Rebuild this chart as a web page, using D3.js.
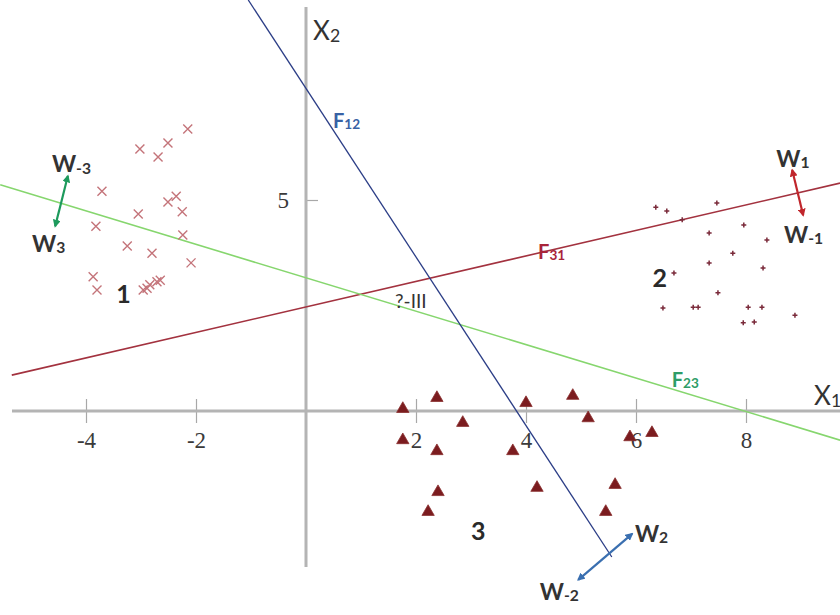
<!DOCTYPE html>
<html>
<head>
<meta charset="utf-8">
<script src="https://cdn.jsdelivr.net/npm/d3@7"></script>
<style>
  body { margin: 0; background: #fff; }
  svg { display: block; }
</style>
</head>
<body>
<div id="chart"></div>
<script>
//////////////////////////////////////////////////////////////////////////////
// Data (in x1/x2 units)

var class1 = [
  [-2.15, 6.68], [-3.02, 6.21], [-2.69, 6.02], [-2.51, 6.35], [-3.71, 5.21],
  [-3.05, 4.67], [-2.51, 4.95], [-2.36, 5.09], [-2.25, 4.72], [-3.82, 4.38],
  [-2.24, 4.17], [-3.25, 3.91], [-2.80, 3.74], [-2.09, 3.51], [-3.87, 3.18],
  [-3.80, 2.87], [-2.96, 2.87], [-2.84, 2.99], [-2.71, 3.06], [-2.89, 2.91],
  [-2.65, 3.10]
];

var class2 = [
  [6.36, 4.83], [6.56, 4.74], [7.47, 4.93], [6.84, 4.53], [7.96, 4.41],
  [7.33, 4.22], [8.38, 4.05], [7.76, 3.74], [7.33, 3.51], [8.31, 3.39],
  [6.69, 3.27], [7.49, 2.80], [6.49, 2.44], [7.04, 2.46], [7.13, 2.46],
  [8.04, 2.46], [8.29, 2.46], [8.89, 2.27], [7.95, 2.09], [8.15, 2.11]
];

var class3 = [
  [1.76, 0.05], [2.38, 0.31], [2.85, -0.28], [1.76, -0.69], [2.38, -0.95],
  [4.00, 0.19], [4.85, 0.36], [5.13, -0.17], [3.76, -0.95], [5.89, -0.62],
  [6.29, -0.52], [2.40, -1.92], [4.20, -1.82], [5.62, -1.75], [2.22, -2.39],
  [5.45, -2.39]
];

// decision lines, two end points each: F31, F23, F12
var lineEnds = [
  [[-5.35, 0.85], [9.71, 5.40]],
  [[-5.56, 5.36], [9.71, -0.69]],
  [[-1.05, 9.74], [5.56, -3.46]]
];

var xTicks = [-4, -2, 2, 4, 6, 8];
var yTicks = [5];

// weight arrows (from, to): green, red, blue
var arrowEnds = [
  [[-4.33, 5.57], [-4.56, 4.38]],
  [[8.84, 5.71], [9.04, 4.64]],
  [[5.93, -2.91], [4.95, -4.00]]
];
var arrowLabels = [
  ["W", "1", 8.55, 5.78], ["W", "-1", 8.69, 3.98],
  ["W", "-3", -4.62, 5.66], ["W", "3", -4.98, 3.77],
  ["W", "2", 5.98, -3.10], ["W", "-2", 4.25, -4.48]
];
var lineLabels = [
  ["F", "31", 4.22, 3.60], ["F", "23", 6.65, 0.57], ["F", "12", 0.49, 6.70]
];
var classLabels = [["1", -3.45, 2.55], ["2", 6.3, 2.95], ["3", 3.00, -3.05]];

//////////////////////////////////////////////////////////////////////////////

var width = 840, height = 615;

var x = d3.scaleLinear().domain([-4, 8]).range([86, 746]);
var y = d3.scaleLinear().domain([0, 5]).range([411, 200]);

var lineColors = ["#a3323f", "#86d66e", "#2b3d86"];
var lineLabelColors = ["#a8243a", "#2e9d68", "#3862a4"];
var arrowColors = ["#1d9a5c", "#c0262c", "#3a6fb0"];
var arrowKeys = ["g", "r", "b"];
var labelFont = "Lato, 'Open Sans', sans-serif";
var tickFont = "'Liberation Serif', serif";

var svg = d3.select("#chart").append("svg")
    .attr("width", width)
    .attr("height", height);

var defs = svg.append("defs");
arrowKeys.forEach(function(k, i) {
    defs.append("marker")
        .attr("id", "arr-" + k)
        .attr("viewBox", "0 0 10 10")
        .attr("refX", 8).attr("refY", 5)
        .attr("markerWidth", 3.6).attr("markerHeight", 3.6)
        .attr("markerUnits", "strokeWidth")
        .attr("orient", "auto-start-reverse")
        .append("path")
        .attr("d", "M0,0 L10,5 L0,10 Z")
        .attr("fill", arrowColors[i]);
});

// axes
var xAxis = svg.append("g")
    .attr("transform", "translate(0," + y(0) + ")")
    .call(d3.axisBottom(x).tickValues(xTicks).tickSize(12).tickPadding(9)
          .tickFormat(function(d) { return String(d); }));
xAxis.select(".domain").remove();
xAxis.selectAll(".tick line").attr("y1", -12).attr("stroke", "#a8a8a8").attr("stroke-width", 1.2);
xAxis.selectAll(".tick text")
    .attr("fill", "#3a3a3a")
    .style("font-family", tickFont)
    .style("font-size", "23px");

svg.append("line")
    .attr("x1", 12).attr("x2", width)
    .attr("y1", y(0)).attr("y2", y(0))
    .attr("stroke", "#b4b4b4").attr("stroke-width", 3);

var yAxis = svg.append("g")
    .attr("transform", "translate(" + x(0) + ",0)")
    .call(d3.axisLeft(y).tickValues(yTicks).tickSize(10).tickPadding(7)
          .tickFormat(function(d) { return String(d); }));
yAxis.select(".domain").remove();
yAxis.selectAll(".tick line").attr("x2", 12).attr("stroke", "#a8a8a8").attr("stroke-width", 1.2);
yAxis.selectAll(".tick text")
    .attr("fill", "#3a3a3a")
    .style("font-family", tickFont)
    .style("font-size", "23px");

svg.append("line")
    .attr("x1", x(0)).attr("x2", x(0))
    .attr("y1", 7).attr("y2", 567)
    .attr("stroke", "#b4b4b4").attr("stroke-width", 3);

// text with a small subscript
function subLabel(sel, main, sub, px, py, size, color, weight) {
    var t = sel.append("text")
        .attr("x", px).attr("y", py)
        .attr("fill", color)
        .style("font-family", labelFont)
        .style("font-weight", weight)
        .style("font-size", size + "px");
    t.append("tspan").text(main);
    t.append("tspan").attr("dy", size * 0.06).style("font-size", (size * 0.68) + "px").text(sub);
    return t;
}
subLabel(svg, "X", "2", 313, 40, 26, "#333", 400);
subLabel(svg, "X", "1", 814, 405, 26, "#333", 400);

// decision lines
var lineGen = d3.line().x(function(d) { return x(d[0]); }).y(function(d) { return y(d[1]); });
svg.append("g")
    .selectAll("path")
    .data(lineEnds)
    .enter()
    .append("path")
    .attr("d", lineGen)
    .attr("fill", "none")
    .attr("stroke", function(d, i) { return lineColors[i]; })
    .attr("stroke-width", function(d, i) { return i === 2 ? 1.3 : 1.6; });

// class 1: crosses
svg.append("g")
    .selectAll("path")
    .data(class1)
    .enter()
    .append("path")
    .attr("transform", function(d) { return "translate(" + x(d[0]) + "," + y(d[1]) + ")"; })
    .attr("d", "M-4.5,-4.5L4.5,4.5M-4.5,4.5L4.5,-4.5")
    .attr("stroke", "#c4747a")
    .attr("stroke-width", 1.4);

// class 2: small plus signs
svg.append("g")
    .selectAll("path")
    .data(class2)
    .enter()
    .append("path")
    .attr("transform", function(d) { return "translate(" + x(d[0]) + "," + y(d[1]) + ")"; })
    .attr("d", "M-2.5,0L2.5,0M0,-2.5L0,2.5")
    .attr("stroke", "#7a2a3a")
    .attr("stroke-width", 1.5);

// class 3: filled triangles
var tri = d3.symbol().type(d3.symbolTriangle).size(66);
svg.append("g")
    .selectAll("path")
    .data(class3)
    .enter()
    .append("path")
    .attr("transform", function(d) { return "translate(" + x(d[0]) + "," + y(d[1]) + ")"; })
    .attr("d", tri)
    .attr("fill", "#7b1c1f")
    .attr("stroke", "#8a3030")
    .attr("stroke-width", 0.8);

// weight arrows
svg.append("g")
    .selectAll("line")
    .data(arrowEnds)
    .enter()
    .append("line")
    .attr("x1", function(d) { return x(d[0][0]); })
    .attr("y1", function(d) { return y(d[0][1]); })
    .attr("x2", function(d) { return x(d[1][0]); })
    .attr("y2", function(d) { return y(d[1][1]); })
    .attr("stroke", function(d, i) { return arrowColors[i]; })
    .attr("stroke-width", 2.2)
    .attr("marker-start", function(d, i) { return "url(#arr-" + arrowKeys[i] + ")"; })
    .attr("marker-end", function(d, i) { return "url(#arr-" + arrowKeys[i] + ")"; });

// labels
arrowLabels.forEach(function(d) {
    subLabel(svg, d[0], d[1], x(d[2]), y(d[3]), 23, "#333", 700);
});
lineLabels.forEach(function(d, i) {
    subLabel(svg, d[0], d[1], x(d[2]), y(d[3]), 20, lineLabelColors[i], 700);
});
svg.append("g")
    .selectAll("text")
    .data(classLabels)
    .enter()
    .append("text")
    .attr("x", function(d) { return x(d[1]); })
    .attr("y", function(d) { return y(d[2]); })
    .attr("fill", "#2a2a2a")
    .style("font-family", labelFont)
    .style("font-weight", 700)
    .style("font-size", "25px")
    .text(function(d) { return d[0]; });

svg.append("text")
    .attr("x", x(1.62)).attr("y", y(2.44))
    .attr("fill", "#333")
    .style("font-family", labelFont)
    .style("font-size", "19px")
    .text("?-III");
</script>
</body>
</html>
